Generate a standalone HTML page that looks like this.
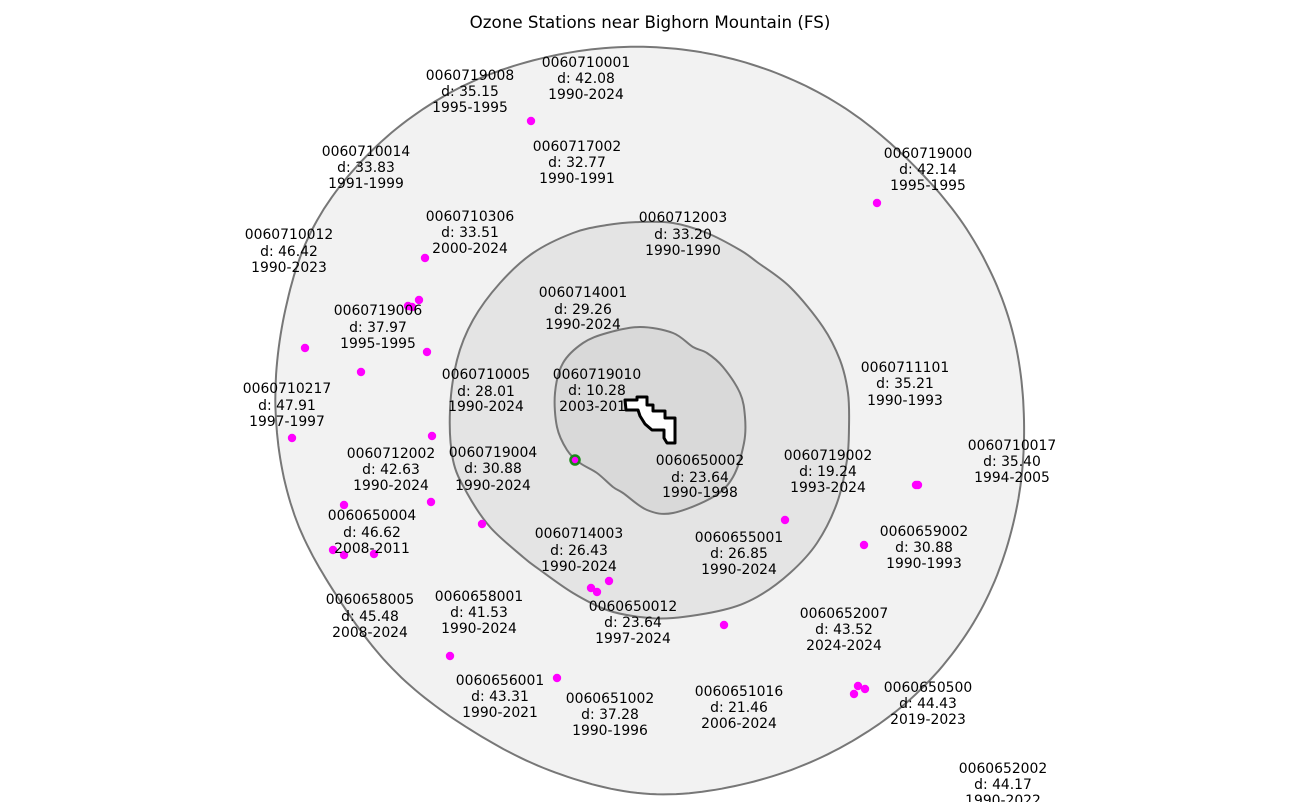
<!DOCTYPE html>
<html><head><meta charset="utf-8"><style>
html,body{margin:0;padding:0;background:#fff;}
svg{display:block;}
text{font-family:"DejaVu Sans","Liberation Sans",sans-serif;font-size:13.9px;fill:#000;text-anchor:middle;}
</style></head><body>
<svg width="1300" height="802" viewBox="0 0 1300 802" xmlns="http://www.w3.org/2000/svg">
<rect width="1300" height="802" fill="#fff"/>
<text x="650" y="28" style="font-size:16.7px">Ozone Stations near Bighorn Mountain (FS)</text>

<path id="outer" fill="#f2f2f2" stroke="#777" stroke-width="2" stroke-linejoin="round" d="M640,47 L680,48 713,53 747,63 780,75 813,90 847,112 880,133 907,160 940,193 973,240 1000,293 1013,333 1020,370 1024,420 1023,470 1018,510 1010,535 1003,560 993,587 980,613 963,640 943,667 917,693 887,717 860,737 825,757 780,773 730,787 693,794 660,795 620,791 570,777 537,763 510,750 483,737 457,720 437,707 417,690 403,680 390,667 370,643 347,613 327,580 307,547 293,513 283,480 278,450 277,420 277,370 280,333 287,300 297,267 310,233 327,207 343,183 363,160 387,137 410,117 437,100 470,83 503,70 537,60 570,53 605,49Z"/>
<path id="middle" fill="#e4e4e4" stroke="#777" stroke-width="2" stroke-linejoin="round" data-pts="640,222 673,223 707,233 740,250 757,262 790,287 823,327 840,360 848,393 849,427 847,460 837,503 817,543 790,573 757,597 723,610 673,618 640,617 607,610 573,593 540,570 523,557 490,527 467,493 453,460 450,410 457,360 473,320 500,283 533,253 573,233 607,225" d="M640,222 L673,223 707,233 740,250 757,262 790,287 823,327 840,360 848,393 849,427 847,460 837,503 817,543 790,573 757,597 723,610 673,618 640,617 607,610 573,593 540,570 523,557 490,527 467,493 453,460 450,410 457,360 473,320 500,283 533,253 573,233 607,225Z"/>
<path id="inner" fill="#d9d9d9" stroke="#777" stroke-width="2" stroke-linejoin="round" data-pts="640,327 673,333 693,347 707,353 723,367 740,393 745,417 744,443 733,477 713,497 673,513 647,510 623,493 613,487 597,473 580,463 567,450 557,427 555,393 563,363 583,343 607,333" d="M640,327 L673,333 693,347 707,353 723,367 740,393 745,417 744,443 733,477 713,497 673,513 647,510 623,493 613,487 597,473 580,463 567,450 557,427 555,393 563,363 583,343 607,333Z"/>

<g fill="#f0f">
<circle cx="531" cy="121" r="4.2"/>
<circle cx="877" cy="203" r="4.2"/>
<circle cx="425" cy="258" r="4.2"/>
<circle cx="419" cy="300" r="4.2"/>
<circle cx="408" cy="306" r="4.2"/>
<circle cx="412" cy="307" r="4.2"/>
<circle cx="305" cy="348" r="4.2"/>
<circle cx="427" cy="352" r="4.2"/>
<circle cx="361" cy="372" r="4.2"/>
<circle cx="292" cy="438" r="4.2"/>
<circle cx="432" cy="436" r="4.2"/>
<circle cx="344" cy="505" r="4.2"/>
<circle cx="431" cy="502" r="4.2"/>
<circle cx="482" cy="524" r="4.2"/>
<circle cx="333" cy="550" r="4.2"/>
<circle cx="344" cy="555" r="4.2"/>
<circle cx="374" cy="554" r="4.2"/>
<circle cx="785" cy="520" r="4.2"/>
<circle cx="864" cy="545" r="4.2"/>
<circle cx="916" cy="485" r="4.2"/>
<circle cx="918" cy="485" r="4.2"/>
<circle cx="591" cy="588" r="4.2"/>
<circle cx="597" cy="592" r="4.2"/>
<circle cx="609" cy="581" r="4.2"/>
<circle cx="724" cy="625" r="4.2"/>
<circle cx="450" cy="656" r="4.2"/>
<circle cx="557" cy="678" r="4.2"/>
<circle cx="858" cy="686" r="4.2"/>
<circle cx="865" cy="689" r="4.2"/>
<circle cx="854" cy="694" r="4.2"/>
</g>

<g>
<text x="470" y="80">0060719008</text><text x="470" y="96">d: 35.15</text><text x="470" y="112">1995-1995</text>
<text x="586" y="67">0060710001</text><text x="586" y="83">d: 42.08</text><text x="586" y="99">1990-2024</text>
<text x="366" y="156">0060710014</text><text x="366" y="172">d: 33.83</text><text x="366" y="188">1991-1999</text>
<text x="577" y="151">0060717002</text><text x="577" y="167">d: 32.77</text><text x="577" y="183">1990-1991</text>
<text x="928" y="158">0060719000</text><text x="928" y="174">d: 42.14</text><text x="928" y="190">1995-1995</text>
<text x="470" y="221">0060710306</text><text x="470" y="237">d: 33.51</text><text x="470" y="253">2000-2024</text>
<text x="683" y="222">0060712003</text><text x="683" y="239">d: 33.20</text><text x="683" y="255">1990-1990</text>
<text x="289" y="239">0060710012</text><text x="289" y="256">d: 46.42</text><text x="289" y="272">1990-2023</text>
<text x="583" y="297">0060714001</text><text x="583" y="314">d: 29.26</text><text x="583" y="329">1990-2024</text>
<text x="378" y="315">0060719006</text><text x="378" y="332">d: 37.97</text><text x="378" y="348">1995-1995</text>
<text x="905" y="372">0060711101</text><text x="905" y="388">d: 35.21</text><text x="905" y="405">1990-1993</text>
<text x="486" y="379">0060710005</text><text x="486" y="396">d: 28.01</text><text x="486" y="411">1990-2024</text>
<text x="597" y="379">0060719010</text><text x="597" y="395">d: 10.28</text><text x="597" y="411">2003-2010</text>
<text x="287" y="393">0060710217</text><text x="287" y="410">d: 47.91</text><text x="287" y="426">1997-1997</text>
<text x="1012" y="450">0060710017</text><text x="1012" y="466">d: 35.40</text><text x="1012" y="482">1994-2005</text>
<text x="391" y="458">0060712002</text><text x="391" y="474">d: 42.63</text><text x="391" y="490">1990-2024</text>
<text x="493" y="457">0060719004</text><text x="493" y="473">d: 30.88</text><text x="493" y="490">1990-2024</text>
<text x="700" y="465">0060650002</text><text x="700" y="482">d: 23.64</text><text x="700" y="497">1990-1998</text>
<text x="828" y="460">0060719002</text><text x="828" y="476">d: 19.24</text><text x="828" y="492">1993-2024</text>
<text x="372" y="520">0060650004</text><text x="372" y="537">d: 46.62</text><text x="372" y="553">2008-2011</text>
<text x="924" y="536">0060659002</text><text x="924" y="552">d: 30.88</text><text x="924" y="568">1990-1993</text>
<text x="579" y="538">0060714003</text><text x="579" y="555">d: 26.43</text><text x="579" y="571">1990-2024</text>
<text x="739" y="542">0060655001</text><text x="739" y="558">d: 26.85</text><text x="739" y="574">1990-2024</text>
<text x="370" y="604">0060658005</text><text x="370" y="621">d: 45.48</text><text x="370" y="637">2008-2024</text>
<text x="479" y="601">0060658001</text><text x="479" y="617">d: 41.53</text><text x="479" y="633">1990-2024</text>
<text x="633" y="611">0060650012</text><text x="633" y="627">d: 23.64</text><text x="633" y="643">1997-2024</text>
<text x="844" y="618">0060652007</text><text x="844" y="634">d: 43.52</text><text x="844" y="650">2024-2024</text>
<text x="500" y="685">0060656001</text><text x="500" y="701">d: 43.31</text><text x="500" y="717">1990-2021</text>
<text x="610" y="703">0060651002</text><text x="610" y="719">d: 37.28</text><text x="610" y="735">1990-1996</text>
<text x="739" y="696">0060651016</text><text x="739" y="712">d: 21.46</text><text x="739" y="728">2006-2024</text>
<text x="928" y="692">0060650500</text><text x="928" y="708">d: 44.43</text><text x="928" y="724">2019-2023</text>
<text x="1003" y="773">0060652002</text><text x="1003" y="789">d: 44.17</text><text x="1003" y="805">1990-2022</text>
</g>

<polygon fill="#fff" stroke="#000" stroke-width="3" stroke-linejoin="round" points="625,400 637,400 637,397 647,397 647,405 653,405 653,411 665,411 665,418 675,418 675,443 667,443 664,438 664,430 652,430 645,424 640,416 638,410 626,410"/>

<circle cx="575" cy="460" r="4.5" fill="#f0f" stroke="#1a8a1a" stroke-width="2.5"/>
</svg>
<script>
(function(){
  // outer ring: smooth radius profile around (650,420)
  var R=[374,377.5,381.5,382,379,376,374,365,358,358,359,368,374,380,388,387,383,377,373,370,368,366.5,370,373];
  var n=R.length, d='';
  for(var deg=0;deg<360;deg++){
    var k=Math.floor(deg/15), t=(deg%15)/15;
    var p0=R[(k-1+n)%n],p1=R[k],p2=R[(k+1)%n],p3=R[(k+2)%n];
    var r=0.5*(2*p1+(-p0+p2)*t+(2*p0-5*p1+4*p2-p3)*t*t+(-p0+3*p1-3*p2+p3)*t*t*t);
    var a=deg*Math.PI/180;
    var x=650+r*Math.cos(a), y=420+r*Math.sin(a);
    d+=(deg?' L':'M')+x.toFixed(1)+','+y.toFixed(1);
  }
  document.getElementById('outer').setAttribute('d',d+'Z');

  ['middle','inner'].forEach(function(id){
    var el=document.getElementById(id);
    var p=el.getAttribute('data-pts').trim().split(/\s+/).map(function(s){var a=s.split(',');return [+a[0],+a[1]];});
    var m=p.length, dd='M'+p[0][0]+','+p[0][1];
    for(var i=0;i<m;i++){
      var q0=p[(i-1+m)%m],q1=p[i],q2=p[(i+1)%m],q3=p[(i+2)%m];
      var c1x=q1[0]+(q2[0]-q0[0])/6,c1y=q1[1]+(q2[1]-q0[1])/6;
      var c2x=q2[0]-(q3[0]-q1[0])/6,c2y=q2[1]-(q3[1]-q1[1])/6;
      dd+=' C'+c1x.toFixed(1)+','+c1y.toFixed(1)+' '+c2x.toFixed(1)+','+c2y.toFixed(1)+' '+q2[0]+','+q2[1];
    }
    el.setAttribute('d',dd+'Z');
  });
})();
</script>
</body></html>
